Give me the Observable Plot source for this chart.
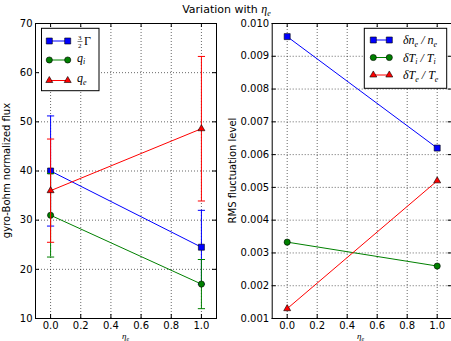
<!DOCTYPE html>
<html><head><meta charset="utf-8">
<script src="https://cdn.jsdelivr.net/npm/d3@7"></script>
<script src="https://cdn.jsdelivr.net/npm/@observablehq/plot@0.6"></script>
<style>
body{margin:0;background:#fff;}
#wrap{position:relative;width:451px;height:341px;overflow:hidden;background:#fff;font-family:"DejaVu Sans",sans-serif;}
#title{position:absolute;left:0;width:453px;top:1px;text-align:center;font-size:11px;line-height:16px;color:#000;white-space:nowrap;}
#title .m{font-family:"Liberation Serif",serif;font-style:italic;font-size:12px;}
#title sub{font-size:8px;line-height:0;}
.panel{position:absolute;top:0;}
</style></head><body>
<div id="wrap"><div id="title">Variation with <span class="m">η<sub>e</sub></span></div></div>
<script>
// ---- data ----
const xVals = [0, 1];
const gammaVals = [40, 24.5];
const gammaErr = [11.2, 7.5];
const qiVals = [31, 17];
const qiErr = [8.5, 5];
const qeVals = [36, 48.6];
const qeErr = [10.5, 14.7];
const neVals = [0.0096, 0.0062];
const tiVals = [0.00333, 0.0026];
const teVals = [0.0013, 0.0052];
const xTicks = [0, 0.2, 0.4, 0.6, 0.8, 1.0];
const fluxTicks = [10, 20, 30, 40, 50, 60, 70];
const rmsTicks = [0.001, 0.002, 0.003, 0.004, 0.005, 0.006, 0.007, 0.008, 0.009, 0.010];

const BLUE = "#0000ff", GREEN = "#008000", RED = "#ff0000";
const rows = (vals, errs) => xVals.map((x, i) => ({
  x, y: vals[i],
  lo: errs ? vals[i] - errs[i] : null,
  hi: errs ? vals[i] + errs[i] : null
}));
const capSymbol = {draw(ctx, size) { const r = Math.sqrt(size / Math.PI); ctx.moveTo(-r, 0); ctx.lineTo(r, 0); }};
const SYM = {square: [d3.symbolSquare, 3.4], circle: [d3.symbolCircle, 3.1], triangle: [d3.symbolTriangle, 2.6]};

const H = 341, mT = 23, mB = 23;

function panel({series, yDomain, yTicks, yFormat, width, mL, mR}) {
  const innerW = width - mL - mR, innerH = H - mT - mB;
  const gridStyle = {stroke: "black", strokeOpacity: 1, strokeWidth: 0.6, strokeDasharray: "1,2"};
  const marks = [
    Plot.gridX(xTicks, gridStyle),
    Plot.gridY(yTicks, gridStyle),
    Plot.tickX(xTicks, {x: d => d, stroke: "black", insetTop: innerH - 4}),
    Plot.tickX(xTicks, {x: d => d, stroke: "black", insetBottom: innerH - 4}),
    Plot.tickY(yTicks, {y: d => d, stroke: "black", insetRight: innerW - 4}),
    Plot.tickY(yTicks, {y: d => d, stroke: "black", insetLeft: innerW - 4}),
    Plot.axisX(xTicks, {tickSize: 0, tickPadding: 3, tickFormat: d3.format(".1f"), fontSize: 10, label: null, fill: "black"}),
    Plot.axisY(yTicks, {tickSize: 0, tickPadding: 3, tickFormat: yFormat, fontSize: 10, label: null, fill: "black"})
  ];
  for (const s of series) {
    marks.push(Plot.line(s.data, {x: "x", y: "y", stroke: s.color, strokeWidth: 1}));
    if (s.err) {
      marks.push(Plot.ruleX(s.data, {x: "x", y1: "lo", y2: "hi", stroke: s.color, strokeWidth: 1}));
      marks.push(Plot.dot(s.data, {x: "x", y: "lo", symbol: capSymbol, r: 3.6, stroke: s.color, strokeWidth: 1}));
      marks.push(Plot.dot(s.data, {x: "x", y: "hi", symbol: capSymbol, r: 3.6, stroke: s.color, strokeWidth: 1}));
    }
    marks.push(Plot.dot(s.data, {x: "x", y: "y", symbol: s.symbol, r: SYM[s.symbol][1], fill: s.color, stroke: "black", strokeWidth: 0.6}));
  }
  marks.push(Plot.frame({stroke: "black", strokeWidth: 1}));
  return Plot.plot({
    width, height: H, marginLeft: mL, marginRight: mR, marginTop: mT, marginBottom: mB,
    style: {fontFamily: "DejaVu Sans, sans-serif", color: "black", background: "transparent"},
    x: {domain: [-0.1, 1.1], axis: null},
    y: {domain: yDomain, axis: null},
    marks
  });
}

function addLegend(svg, {box, entries, mx1, mx2, lx}) {
  const g = d3.select(svg).append("g").attr("text-anchor", "start");
  g.append("rect").attr("x", box[0]).attr("y", box[1]).attr("width", box[2] - box[0]).attr("height", box[3] - box[1])
    .attr("fill", "white").attr("stroke", "black").attr("stroke-width", 1);
  for (const e of entries) {
    g.append("line").attr("x1", mx1).attr("x2", mx2).attr("y1", e.y).attr("y2", e.y).attr("stroke", e.color).attr("stroke-width", 1);
    const [sym, r] = SYM[e.symbol];
    for (const mx of [mx1, mx2]) {
      g.append("path").attr("d", d3.symbol(sym, Math.PI * r * r)()).attr("transform", `translate(${mx},${e.y})`)
        .attr("fill", e.color).attr("stroke", "black").attr("stroke-width", 0.6);
    }
    e.label(g, lx, e.y);
  }
}
const MF = "Liberation Serif, serif";
function mathLabel(parts) {
  return (g, x, y) => {
    const t = g.append("text").attr("x", x).attr("y", y + 4).attr("font-family", MF).attr("font-size", 12).attr("font-style", "italic");
    for (const [txt, sub] of parts) {
      t.append("tspan").text(txt).attr("font-size", sub ? 8 : 12).attr("dy", sub ? 2.5 : (t.node().childNodes.length ? -2.5 : 0));
    }
  };
}

// ---- left panel ----
const left = panel({
  series: [
    {data: rows(gammaVals, gammaErr), err: true, color: BLUE, symbol: "square"},
    {data: rows(qiVals, qiErr), err: true, color: GREEN, symbol: "circle"},
    {data: rows(qeVals, qeErr), err: true, color: RED, symbol: "triangle"}
  ],
  yDomain: [10, 70], yTicks: fluxTicks, yFormat: d3.format("d"),
  width: 225, mL: 35, mR: 9
});
addLegend(left, {
  box: [41.5, 28.3, 99, 90.7], mx1: 49.3, mx2: 67.7, lx: 77,
  entries: [
    {y: 41, color: BLUE, symbol: "square", label: (g, x, y) => {
      g.append("text").attr("x", x + 1).attr("y", y - 1.5).attr("font-family", MF).attr("font-size", 7).text("3");
      g.append("line").attr("x1", x + 0.5).attr("x2", x + 5.5).attr("y1", y + 0.5).attr("y2", y + 0.5).attr("stroke", "black").attr("stroke-width", 0.5);
      g.append("text").attr("x", x + 1).attr("y", y + 7).attr("font-family", MF).attr("font-size", 7).text("2");
      g.append("text").attr("x", x + 7).attr("y", y + 4).attr("font-family", MF).attr("font-size", 12).text("Γ");
    }},
    {y: 60, color: GREEN, symbol: "circle", label: mathLabel([["q", false], ["i", true]])},
    {y: 80.5, color: RED, symbol: "triangle", label: mathLabel([["q", false], ["e", true]])}
  ]
});
const axl = d3.select(left);
axl.append("text").attr("transform", "translate(10,170.5) rotate(-90)").attr("text-anchor", "middle")
  .attr("font-family", "DejaVu Sans, sans-serif").attr("font-size", 10).text("gyro-Bohm normalized flux");
const xl1 = axl.append("text").attr("x", 122).attr("y", 339).attr("text-anchor", "start").attr("font-family", MF).attr("font-style", "italic").attr("font-size", 9);
xl1.append("tspan").text("η"); xl1.append("tspan").text("e").attr("font-size", 6).attr("dy", 1.5);

// ---- right panel ----
const right = panel({
  series: [
    {data: rows(neVals, null), err: false, color: BLUE, symbol: "square"},
    {data: rows(tiVals, null), err: false, color: GREEN, symbol: "circle"},
    {data: rows(teVals, null), err: false, color: RED, symbol: "triangle"}
  ],
  yDomain: [0.001, 0.010], yTicks: rmsTicks, yFormat: d3.format(".3f"),
  width: 240, mL: 46.7, mR: 13.3
});
function slashLabel(a, b) {
  return (g, x, y) => {
    const t = g.append("text").attr("x", x).attr("y", y + 4).attr("font-family", MF).attr("font-size", 12).attr("font-style", "italic");
    t.append("tspan").text("δ" + a[0]);
    t.append("tspan").text(a[1]).attr("font-size", 8).attr("dy", 2.5);
    t.append("tspan").text(" / " + b[0]).attr("dy", -2.5).attr("font-size", 12);
    t.append("tspan").text(b[1]).attr("font-size", 8).attr("dy", 2.5);
  };
}
addLegend(right, {
  box: [139.3, 28.3, 221.7, 88.3], mx1: 148.3, mx2: 164.3, lx: 178,
  entries: [
    {y: 40, color: BLUE, symbol: "square", label: slashLabel(["n", "e"], ["n", "e"])},
    {y: 57.5, color: GREEN, symbol: "circle", label: slashLabel(["T", "i"], ["T", "i"])},
    {y: 75, color: RED, symbol: "triangle", label: slashLabel(["T", "e"], ["T", "e"])}
  ]
});
const axr = d3.select(right);
axr.append("text").attr("transform", "translate(11,170.5) rotate(-90)").attr("text-anchor", "middle")
  .attr("font-family", "DejaVu Sans, sans-serif").attr("font-size", 10).text("RMS fluctuation level");
const xl2 = axr.append("text").attr("x", 132).attr("y", 339).attr("text-anchor", "start").attr("font-family", MF).attr("font-style", "italic").attr("font-size", 9);
xl2.append("tspan").text("η"); xl2.append("tspan").text("e").attr("font-size", 6).attr("dy", 1.5);

const wrap = document.getElementById("wrap");
left.classList.add("panel"); left.style.left = "0px";
right.classList.add("panel"); right.style.left = "225px";
wrap.appendChild(left);
wrap.appendChild(right);
</script>
</body></html>
